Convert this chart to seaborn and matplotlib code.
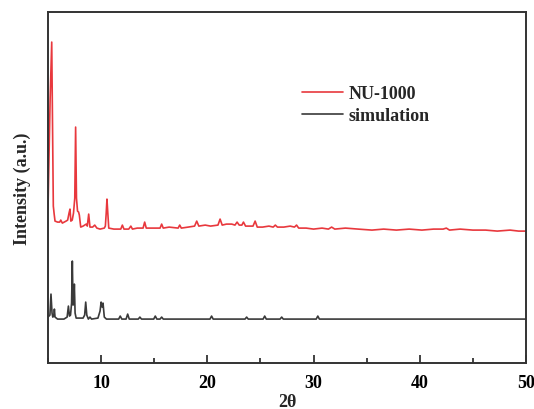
import numpy as np
import pandas as pd
import matplotlib
matplotlib.use("Agg")
import matplotlib.pyplot as plt
import seaborn as sns
from matplotlib.ticker import MultipleLocator

# Measured NU-1000 pattern (2-theta, intensity in arbitrary units)
nu_x = [5.0, 5.2, 5.35, 5.5, 5.58, 5.66, 5.9, 6.1, 6.2, 6.35, 6.7, 6.85, 6.98,
        7.07, 7.15, 7.28, 7.4, 7.52, 7.6, 7.68, 7.78, 7.88, 7.95, 8.08, 8.3,
        8.6, 8.7, 8.83, 8.95, 9.2, 9.4, 9.6, 9.9, 10.3, 10.4, 10.48, 10.55,
        10.63, 10.72, 11.2, 11.85, 12.0, 12.15, 12.6, 12.8, 12.95, 13.4, 13.95,
        14.1, 14.25, 15.0, 15.55, 15.7, 15.85, 16.4, 17.25, 17.4, 17.55, 18.2,
        18.8, 19.0, 19.2, 19.8, 20.3, 21.0, 21.2, 21.4, 21.8, 22.3, 22.6, 22.8,
        23.0, 23.25, 23.4, 23.6, 24.3, 24.5, 24.7, 25.2, 25.8, 26.2, 26.4,
        26.6, 27.2, 27.8, 28.2, 28.4, 28.6, 29.3, 30.0, 30.8, 31.4, 31.7, 32.0,
        33.0, 34.2, 35.5, 36.6, 37.8, 39.0, 40.2, 41.3, 42.2, 42.5, 42.8,
        43.8, 45.0, 46.2, 47.3, 48.5, 49.3, 50.0]
nu_y = [154, 264, 321, 157, 149, 142, 141, 141, 143, 140, 142, 143, 150,
        154, 142, 143, 150, 165, 236, 165, 152, 151, 148, 136, 137,
        139, 137, 149, 136, 136, 138, 135, 134, 135, 137, 150, 164,
        150, 135, 134, 134, 138, 134, 134, 137, 134, 135, 135,
        141, 135, 135, 135, 139, 135, 136, 135, 138, 135, 136,
        137, 142, 137, 138, 137, 138, 144, 138, 139, 139, 138, 141,
        138, 138, 141, 137, 137, 142, 136, 136, 137, 136, 138,
        136, 136, 137, 136, 138, 135, 135, 134, 135, 134, 136, 134,
        135, 134, 133, 134, 133, 134, 133, 134, 134, 135, 133,
        134, 133, 133, 132, 133, 132, 132]

# Simulated pattern
sim_x = [5.0, 5.18, 5.28, 5.38, 5.45, 5.55, 5.6, 5.66, 5.9, 6.5, 6.8, 6.92,
         7.02, 7.12, 7.22, 7.29, 7.36, 7.42, 7.48, 7.55, 7.65, 8.3, 8.45, 8.55,
         8.65, 8.8, 8.95, 9.1, 9.7, 9.9, 10.0, 10.1, 10.18, 10.3, 10.5, 11.65,
         11.8, 11.95, 12.35, 12.5, 12.65, 13.5, 13.65, 13.8, 14.95, 15.1, 15.25,
         15.55, 15.7, 15.85, 20.25, 20.4, 20.55, 23.55, 23.7, 23.85, 25.25,
         25.4, 25.55, 26.85, 27.0, 27.15, 30.25, 30.4, 30.55, 50.0]
sim_y = [46, 48, 69, 50, 46, 47, 54, 46, 44, 44, 46, 57,
         47, 48, 60, 102, 58, 60, 79, 50, 45, 45, 48, 61,
         48, 44, 46, 44, 45, 52, 61, 56, 60, 46, 44, 44,
         47, 44, 44, 49, 44, 44, 46, 44, 44, 47, 44,
         44, 46, 44, 44, 47, 44, 44, 46, 44, 44,
         47, 44, 44, 46, 44, 44, 47, 44, 44]

series_names = ["NU-1000", "simulation"]
series_colors = ["#e8383d", "#3a3a3a"]

df = pd.concat([
    pd.DataFrame({"two_theta": nu_x, "intensity": nu_y, "sample": series_names[0]}),
    pd.DataFrame({"two_theta": sim_x, "intensity": sim_y, "sample": series_names[1]}),
], ignore_index=True)

sns.set_style("ticks", {"xtick.direction": "in"})
plt.rcParams["font.family"] = ["Liberation Serif", "DejaVu Serif"]
plt.rcParams["font.weight"] = "bold"

fig = plt.figure(figsize=(5.34, 4.10), dpi=100)
ax = fig.add_axes([0.0899, 0.112, 0.8951, 0.856])

sns.lineplot(data=df, x="two_theta", y="intensity", hue="sample",
             hue_order=series_names, palette=series_colors,
             estimator=None, sort=False, linewidth=1.2, ax=ax)

ax.set_xlim(5, 50)
ax.set_ylim(0, 351)
ax.set_yticks([])
ax.xaxis.set_major_locator(MultipleLocator(10))
ax.xaxis.set_minor_locator(MultipleLocator(5))
ax.tick_params(axis="x", which="both", bottom=True, top=False, direction="in",
               color="#333333", width=1.3)
ax.tick_params(axis="x", which="major", length=6, pad=8, labelsize=13,
               labelcolor="black")
ax.tick_params(axis="x", which="minor", length=3.5)
for lab in ax.get_xticklabels():
    lab.set_fontweight("bold")

for side in ["left", "right", "top", "bottom"]:
    ax.spines[side].set_visible(True)
    ax.spines[side].set_linewidth(1.4)
    ax.spines[side].set_color("#333333")

ax.set_xlabel("2θ", fontsize=13, fontweight="bold", labelpad=1)
ax.set_ylabel("Intensity (a.u.)", fontsize=13, fontweight="bold", labelpad=12)

ax.legend(loc="center left", bbox_to_anchor=(0.531, 0.7365), frameon=False,
          borderpad=0, borderaxespad=0, handlelength=2.3, handletextpad=0.3,
          labelspacing=0.3, prop={"size": 13, "weight": "bold"})

# Render once so the tick artists are fully built before saving
fig.canvas.draw()
fig.savefig("out.png", dpi=100)
